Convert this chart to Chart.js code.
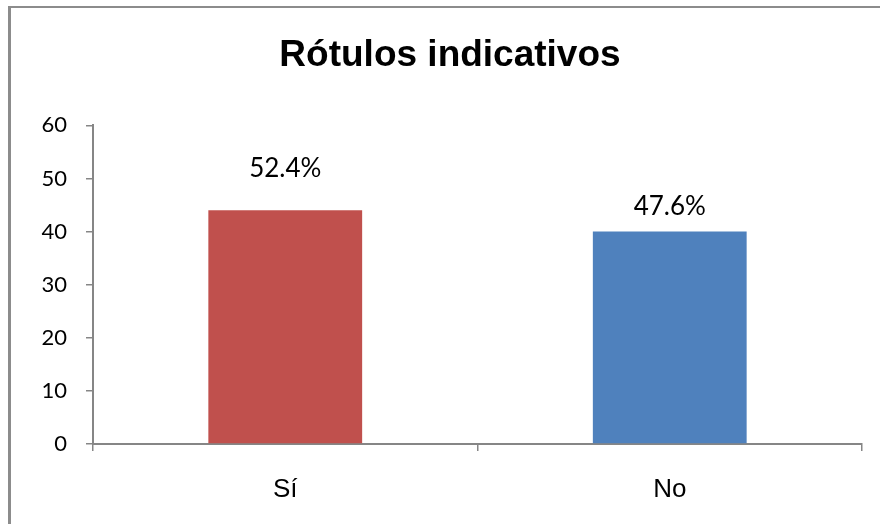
<!DOCTYPE html>
<html>
<head>
<meta charset="utf-8">
<script src="https://cdn.jsdelivr.net/npm/chart.js@4/dist/chart.umd.min.js"></script>
<style>
  html, body { margin: 0; padding: 0; background: #ffffff; }
  #wrap { position: relative; width: 880px; height: 524px; overflow: hidden; }
  #frame { position: absolute; left: 8px; top: 6px; width: 900px; height: 600px;
           border-left: 3px solid #8c8c8c; border-top: 2px solid #8c8c8c; pointer-events: none; }
  canvas { position: absolute; left: 0; top: 0; }
</style>
</head>
<body>
<div id="wrap">
  <canvas id="c" width="880" height="524"></canvas>
  <div id="frame"></div>
</div>
<script>
const categories = ['Sí', 'No'];
const values = [44, 40];
const percentLabels = ['52.4%', '47.6%'];
const barColors = ['#C0504D', '#4F81BD'];
const yTicks = [0, 10, 20, 30, 40, 50, 60];
const titleText = 'Rótulos indicativos';

const labelPlugin = {
  id: 'barLabels',
  afterDatasetsDraw(chart, args, opts) {
    const ctx = chart.ctx;
    const meta = chart.getDatasetMeta(0);
    ctx.save();
    ctx.font = opts.font;
    ctx.fillStyle = opts.color;
    ctx.textAlign = 'center';
    ctx.textBaseline = 'middle';
    meta.data.forEach((bar, i) => {
      ctx.fillText(percentLabels[i], bar.x, bar.y - opts.gaps[i]);
    });
    ctx.restore();
  }
};

new Chart(document.getElementById('c'), {
  type: 'bar',
  data: {
    labels: categories,
    datasets: [{
      data: values,
      backgroundColor: barColors,
      borderWidth: 0,
      categoryPercentage: 1.0,
      barPercentage: 0.4
    }]
  },
  options: {
    responsive: false,
    animation: false,
    layout: { padding: { left: 38, right: 18, top: 0, bottom: 0 } },
    plugins: {
      legend: { display: false },
      tooltip: { enabled: false },
      title: {
        display: true,
        text: titleText,
        color: '#000000',
        font: { family: 'Liberation Sans', size: 37, weight: 'bold' },
        padding: { top: 34, bottom: 47 }
      },
      barLabels: {
        font: '26px Lato',
        color: '#000000',
        gaps: [42, 25]
      }
    },
    scales: {
      x: {
        grid: { display: true, drawOnChartArea: false, drawTicks: true, tickLength: 7, color: '#868686', lineWidth: 1.5, offset: true },
        border: { display: true, color: '#868686', width: 2 },
        ticks: { color: '#000000', font: { family: 'Liberation Sans', size: 26 }, padding: 23 },
        afterFit(scale) { scale.height = 80; }
      },
      y: {
        min: 0,
        max: 60,
        afterBuildTicks(scale) { scale.ticks = yTicks.map(v => ({ value: v })); },
        grid: { display: true, drawOnChartArea: false, drawTicks: true, tickLength: 7, color: '#868686', lineWidth: 1.5 },
        border: { display: true, color: '#868686', width: 2 },
        ticks: { color: '#000000', font: { family: 'Lato', size: 22 }, padding: 19 },
        afterFit(scale) { scale.width = 55; }
      }
    }
  },
  plugins: [labelPlugin]
});
</script>
</body>
</html>
